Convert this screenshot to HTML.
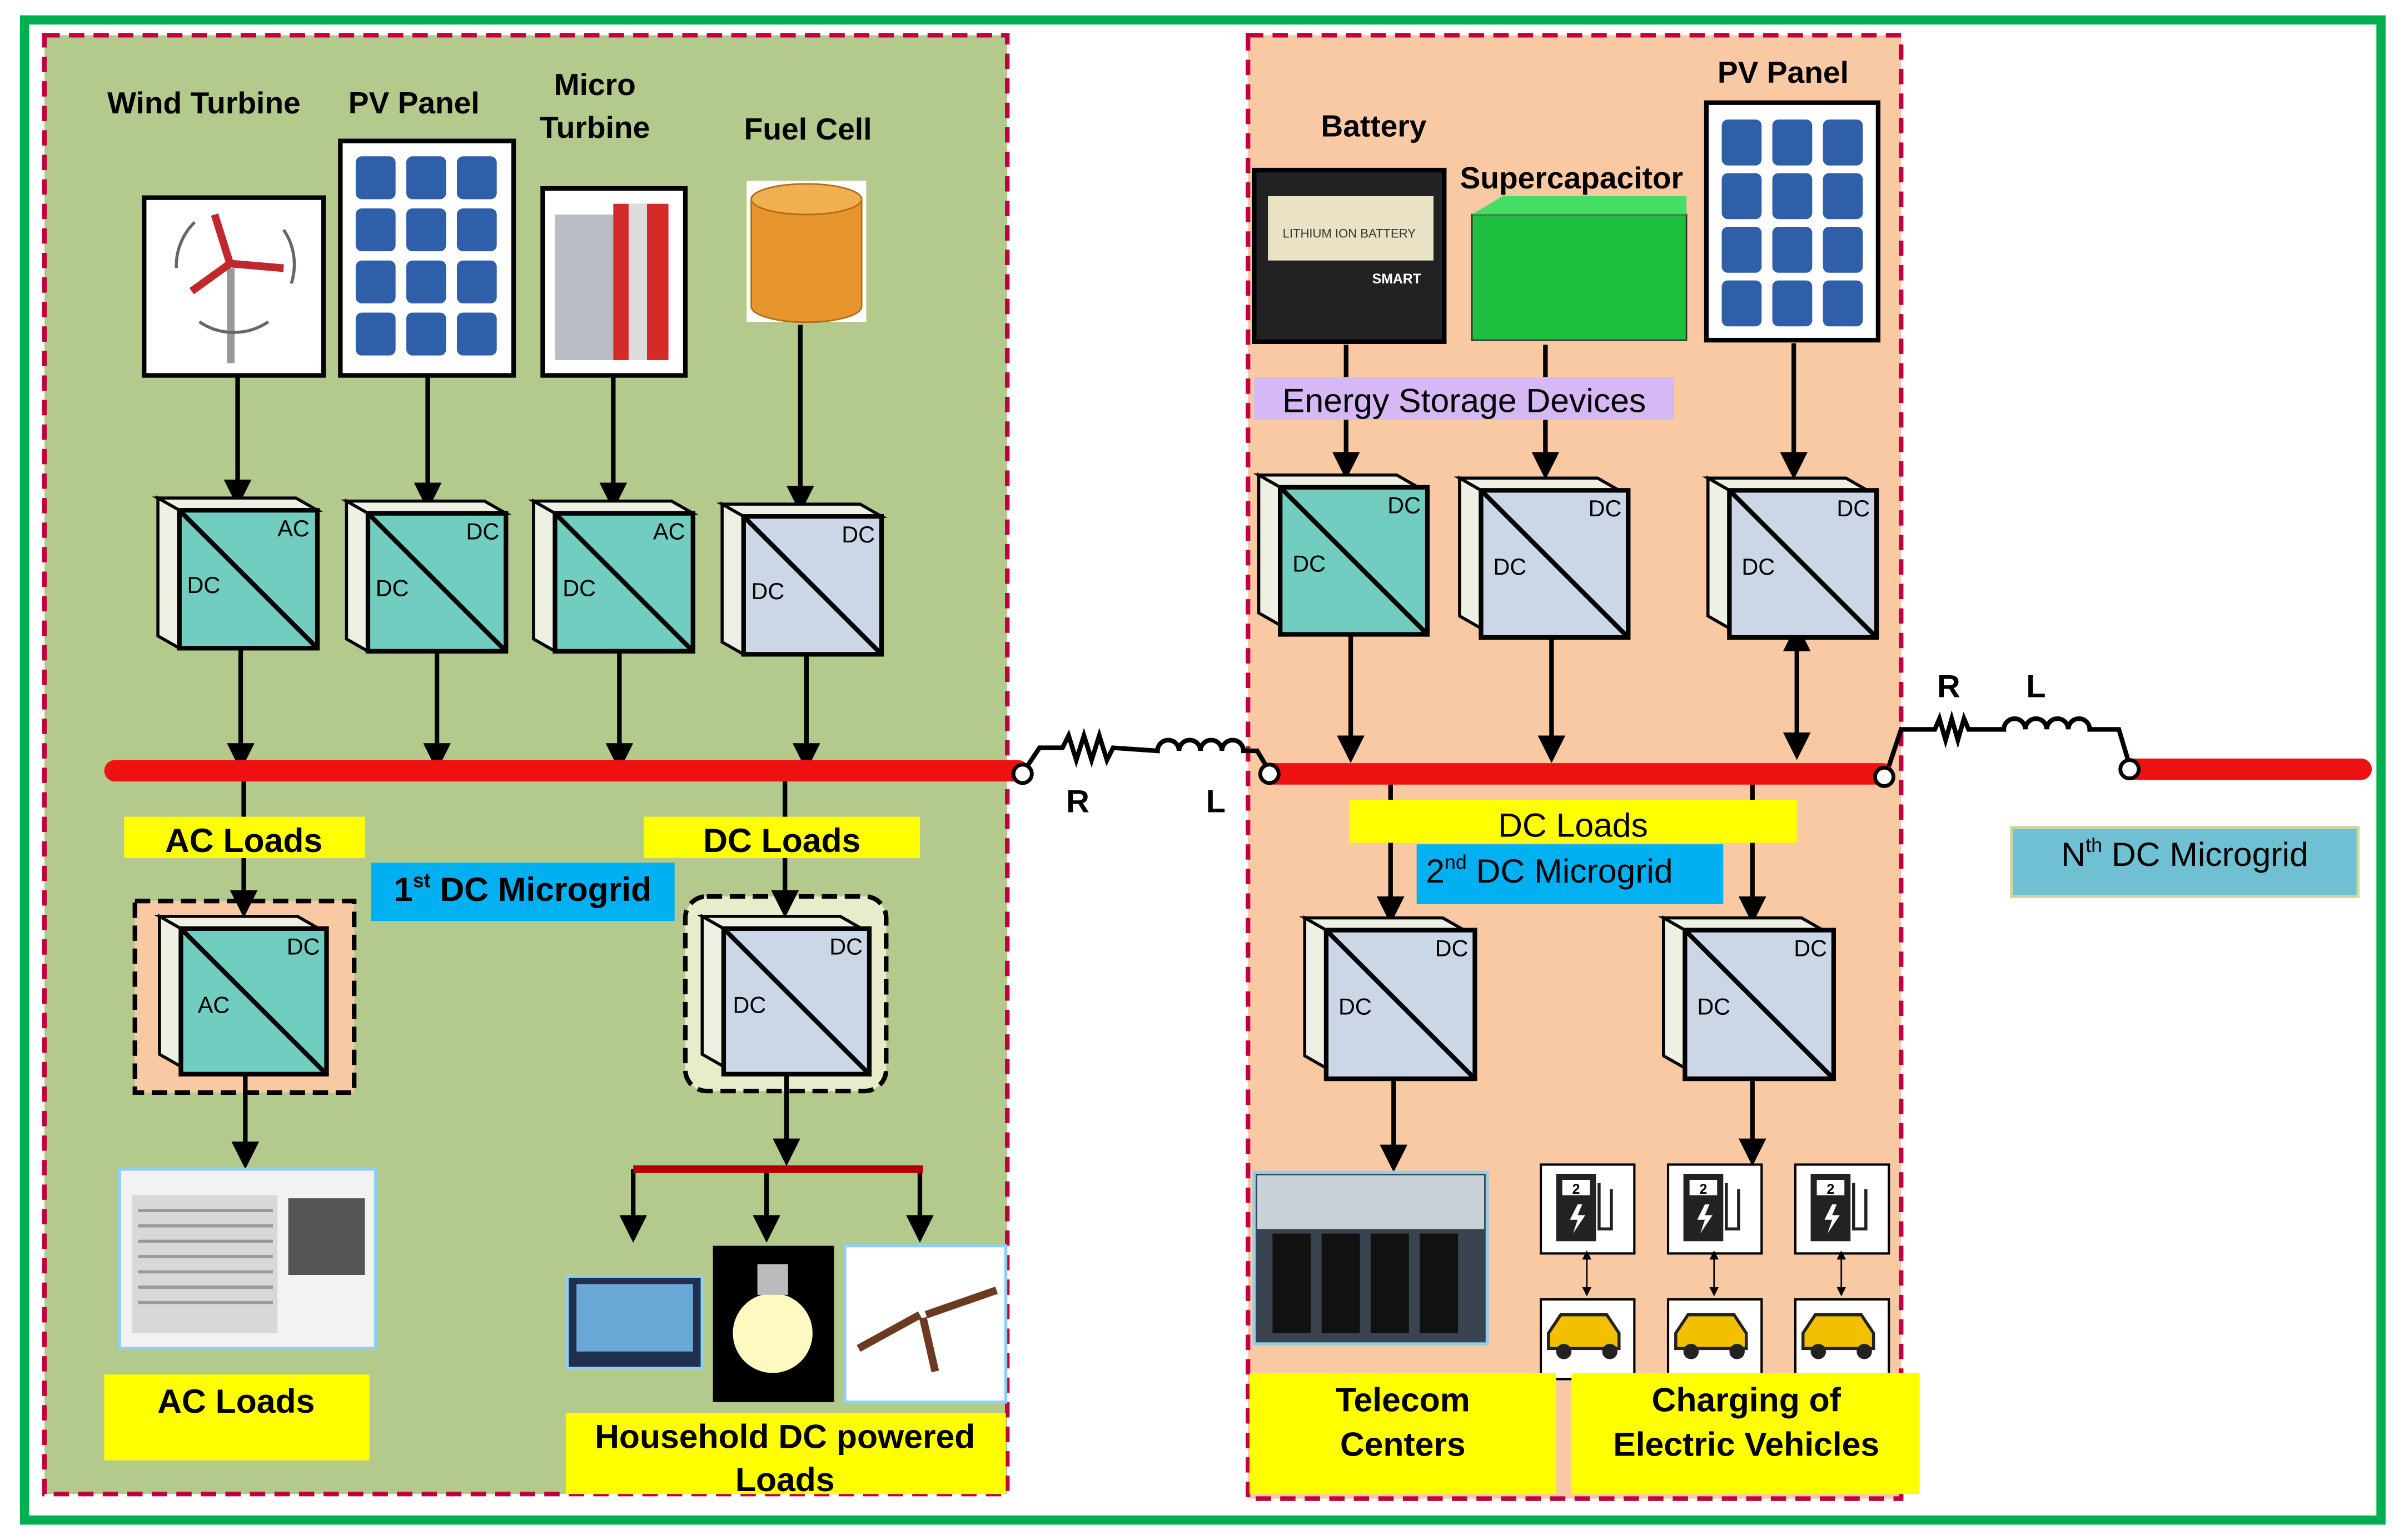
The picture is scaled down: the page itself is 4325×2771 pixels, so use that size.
<!DOCTYPE html>
<html><head><meta charset="utf-8"><style>
html,body{margin:0;padding:0;background:#fff}
svg{display:block}
text{font-family:"Liberation Sans",sans-serif}
</style></head><body>
<svg width="4325" height="2771" viewBox="0 0 1568 1005" preserveAspectRatio="none" xmlns="http://www.w3.org/2000/svg">
<defs>
<marker id="ah" markerWidth="6" markerHeight="6" refX="5" refY="3" orient="auto" markerUnits="strokeWidth"><path d="M0,0 L6,3 L0,6 z" fill="#000"/></marker>
<marker id="ahs" markerWidth="6" markerHeight="6" refX="1" refY="3" orient="auto-start-reverse" markerUnits="strokeWidth"><path d="M0,0 L6,3 L0,6 z" fill="#000"/></marker>
<g id="cv3d">
<polygon points="-14,-8 76,-8 90,0 0,0" fill="#eef0e4" stroke="#000" stroke-width="2"/>
<polygon points="-14,-8 0,0 0,90 -14,82" fill="#eef0e4" stroke="#000" stroke-width="2"/>
</g>
</defs>
<rect width="1568" height="1005" fill="#fff"/>
<rect x="16" y="13" width="1537" height="979" fill="none" stroke="#00b050" stroke-width="6"/>
<rect x="29" y="23" width="628" height="952" fill="#b4c98c" stroke="#c00040" stroke-width="3" stroke-dasharray="10,6"/>
<rect x="814" y="23" width="426" height="955" fill="#f9c9a4" stroke="#c00040" stroke-width="3" stroke-dasharray="10,6"/>
<g font-weight="bold" font-size="20" fill="#000" text-anchor="middle">
<text x="133" y="74">Wind Turbine</text>
<text x="270" y="74">PV Panel</text>
<text x="388" y="62">Micro</text><text x="388" y="90">Turbine</text>
<text x="527" y="91">Fuel Cell</text>
<text x="896" y="89">Battery</text>
<text x="1025" y="123">Supercapacitor</text>
<text x="1163" y="54">PV Panel</text>
</g>
<rect x="94" y="129" width="117" height="116" fill="#fff" stroke="#000" stroke-width="3"/>
<rect x="148" y="175" width="5" height="62" fill="#999"/>
<path d="M150,172 L140,140 M150,172 L185,175 M150,172 L125,190" stroke="#c0282d" stroke-width="5"/>
<path d="M115,175 a40,40 0 0 1 12,-30 M185,150 a40,40 0 0 1 5,35 M130,210 a40,40 0 0 0 45,0" fill="none" stroke="#666" stroke-width="2"/>
<rect x="222" y="92" width="113" height="153" fill="#fff" stroke="#000" stroke-width="3"/>
<g fill="#2f5fa8">
<rect x="232" y="102" width="26" height="28" rx="4"/><rect x="265" y="102" width="26" height="28" rx="4"/><rect x="298" y="102" width="26" height="28" rx="4"/>
<rect x="232" y="136" width="26" height="28" rx="4"/><rect x="265" y="136" width="26" height="28" rx="4"/><rect x="298" y="136" width="26" height="28" rx="4"/>
<rect x="232" y="170" width="26" height="28" rx="4"/><rect x="265" y="170" width="26" height="28" rx="4"/><rect x="298" y="170" width="26" height="28" rx="4"/>
<rect x="232" y="204" width="26" height="28" rx="4"/><rect x="265" y="204" width="26" height="28" rx="4"/><rect x="298" y="204" width="26" height="28" rx="4"/>
</g>
<rect x="354" y="123" width="93" height="122" fill="#fff" stroke="#000" stroke-width="3"/>
<rect x="362" y="140" width="38" height="95" fill="#b8bcc4"/>
<rect x="400" y="133" width="36" height="102" fill="#d42a2a"/>
<rect x="410" y="133" width="12" height="102" fill="#ddd"/>
<rect x="487" y="118" width="78" height="92" fill="#fff"/>
<path d="M490,130 v70 a35,10 0 0 0 72,0 v-70 z" fill="#e8952e" stroke="#b06a18"/>
<ellipse cx="526" cy="130" rx="36" ry="10" fill="#f0b050" stroke="#b06a18"/>
<g stroke="#000" stroke-width="3" fill="none" marker-end="url(#ah)">
<line x1="155" y1="245" x2="155" y2="328"/>
<line x1="279" y1="245" x2="279" y2="330"/>
<line x1="400" y1="245" x2="400" y2="330"/>
<line x1="522" y1="212" x2="522" y2="332"/>
<line x1="157" y1="424" x2="157" y2="500"/>
<line x1="285" y1="426" x2="285" y2="500"/>
<line x1="404" y1="426" x2="404" y2="500"/>
<line x1="526" y1="428" x2="526" y2="500"/>
</g>
<g transform="translate(117,333)"><use href="#cv3d"/><rect width="90" height="90" fill="#70cdbf" stroke="#000" stroke-width="3"/><line x1="0" y1="0" x2="90" y2="90" stroke="#000" stroke-width="3"/><text x="64" y="17" font-size="15">AC</text><text x="5" y="54" font-size="15">DC</text></g>
<g transform="translate(240,335)"><use href="#cv3d"/><rect width="90" height="90" fill="#70cdbf" stroke="#000" stroke-width="3"/><line x1="0" y1="0" x2="90" y2="90" stroke="#000" stroke-width="3"/><text x="64" y="17" font-size="15">DC</text><text x="5" y="54" font-size="15">DC</text></g>
<g transform="translate(362,335)"><use href="#cv3d"/><rect width="90" height="90" fill="#70cdbf" stroke="#000" stroke-width="3"/><line x1="0" y1="0" x2="90" y2="90" stroke="#000" stroke-width="3"/><text x="64" y="17" font-size="15">AC</text><text x="5" y="54" font-size="15">DC</text></g>
<g transform="translate(485,337)"><use href="#cv3d"/><rect width="90" height="90" fill="#cbd6e6" stroke="#000" stroke-width="3"/><line x1="0" y1="0" x2="90" y2="90" stroke="#000" stroke-width="3"/><text x="64" y="17" font-size="15">DC</text><text x="5" y="54" font-size="15">DC</text></g>
<line x1="75" y1="503" x2="664" y2="503" stroke="#ee1111" stroke-width="14" stroke-linecap="round"/>
<line x1="828" y1="505" x2="1228" y2="505" stroke="#ee1111" stroke-width="14" stroke-linecap="round"/>
<line x1="1390" y1="502" x2="1540" y2="502" stroke="#ee1111" stroke-width="14" stroke-linecap="round"/>
<g fill="#fff" stroke="#000" stroke-width="2.5">
<circle cx="667" cy="505" r="6"/><circle cx="828" cy="505" r="6"/><circle cx="1229" cy="507" r="6"/><circle cx="1389" cy="502" r="6"/>
</g>
<g fill="none" stroke="#000" stroke-width="3">
<path d="M670,500 L678,488 L693,488 l4,-8 l5,16 l5,-16 l5,16 l5,-16 l5,16 l4,-8 L755,490 a7,7 0 0 1 14,0 a7,7 0 0 1 14,0 a7,7 0 0 1 14,0 a7,7 0 0 1 14,0 L820,490 L826,500"/>
<path d="M1232,500 L1240,476 L1262,476 l3,-7 l4,14 l4,-14 l4,14 l4,-14 l3,7 L1307,476 a7,7 0 0 1 14,0 a7,7 0 0 1 14,0 a7,7 0 0 1 14,0 a7,7 0 0 1 14,0 L1382,476 L1388,496"/>
</g>
<g font-weight="bold" font-size="21" text-anchor="middle">
<text x="703" y="530">R</text><text x="793" y="530">L</text>
<text x="1271" y="455">R</text><text x="1328" y="455">L</text>
</g>
<rect x="88" y="588" width="143" height="125" fill="#f9c9a4" stroke="#000" stroke-width="3" stroke-dasharray="10,5"/>
<rect x="447" y="585" width="131" height="127" rx="14" fill="#e8eccb" stroke="#000" stroke-width="3" stroke-dasharray="10,5"/>
<g stroke="#000" stroke-width="3" fill="none" marker-end="url(#ah)">
<line x1="159" y1="510" x2="159" y2="596"/>
<line x1="512" y1="510" x2="512" y2="596"/>
<line x1="160" y1="700" x2="160" y2="760"/>
<line x1="513" y1="700" x2="513" y2="758"/>
<line x1="413" y1="763" x2="413" y2="808"/>
<line x1="500" y1="763" x2="500" y2="808"/>
<line x1="600" y1="763" x2="600" y2="808"/>
</g>
<rect x="81" y="533" width="157" height="27" fill="#ffff00"/>
<rect x="420" y="533" width="180" height="27" fill="#ffff00"/>
<rect x="242" y="563" width="198" height="38" fill="#00b0f0"/>
<g font-weight="bold" font-size="22" text-anchor="middle">
<text x="159" y="556">AC Loads</text><text x="510" y="556">DC Loads</text>
<text x="341" y="588">1<tspan font-size="13" dy="-9">st</tspan><tspan dy="9"> DC Microgrid</tspan></text>
</g>
<g transform="translate(118,606)"><use href="#cv3d"/><rect width="95" height="95" fill="#70cdbf" stroke="#000" stroke-width="3"/><line x1="0" y1="0" x2="95" y2="95" stroke="#000" stroke-width="3"/><text x="69" y="17" font-size="15">DC</text><text x="11" y="55" font-size="15">AC</text></g>
<g transform="translate(472,606)"><use href="#cv3d"/><rect width="95" height="95" fill="#cbd6e6" stroke="#000" stroke-width="3"/><line x1="0" y1="0" x2="95" y2="95" stroke="#000" stroke-width="3"/><text x="69" y="17" font-size="15">DC</text><text x="6" y="55" font-size="15">DC</text></g>
<line x1="413" y1="763" x2="602" y2="763" stroke="#b00000" stroke-width="5"/>
<rect x="78" y="763" width="167" height="117" fill="#f2f2f2" stroke="#8fd0f0" stroke-width="2"/>
<rect x="86" y="780" width="95" height="90" fill="#d8d8d8"/>
<g stroke="#999" stroke-width="2"><line x1="90" y1="790" x2="178" y2="790"/><line x1="90" y1="800" x2="178" y2="800"/><line x1="90" y1="810" x2="178" y2="810"/><line x1="90" y1="820" x2="178" y2="820"/><line x1="90" y1="830" x2="178" y2="830"/><line x1="90" y1="840" x2="178" y2="840"/><line x1="90" y1="850" x2="178" y2="850"/></g>
<rect x="188" y="782" width="50" height="50" fill="#555"/>
<rect x="68" y="897" width="173" height="56" fill="#ffff00"/>
<text x="154" y="922" font-weight="bold" font-size="22" text-anchor="middle">AC Loads</text>
<rect x="370" y="833" width="88" height="60" fill="#203050" stroke="#8fd0f0" stroke-width="2"/>
<rect x="376" y="838" width="76" height="44" fill="#6aa8d8"/>
<rect x="465" y="813" width="79" height="102" fill="#000"/>
<circle cx="504" cy="870" r="26" fill="#fff8c0"/>
<rect x="494" y="825" width="20" height="20" fill="#bbb"/>
<rect x="551" y="813" width="105" height="102" fill="#fff" stroke="#8fd0f0" stroke-width="2"/>
<path d="M560,880 L600,858 M604,858 L650,842 M602,860 L610,895" stroke="#6b3a20" stroke-width="5"/>
<rect x="369" y="922" width="287" height="53" fill="#ffff00"/>
<g font-weight="bold" font-size="22" text-anchor="middle"><text x="512" y="945">Household DC powered</text><text x="512" y="973">Loads</text></g>
<rect x="818" y="111" width="124" height="112" fill="#222" stroke="#000" stroke-width="3"/>
<rect x="827" y="128" width="108" height="42" fill="#e9e2c4"/>
<text x="880" y="155" font-size="8" text-anchor="middle" fill="#333">LITHIUM ION BATTERY</text>
<text x="895" y="185" font-size="9" fill="#fff" font-weight="bold">SMART</text>
<rect x="960" y="140" width="140" height="82" fill="#1fbf40" stroke="#333"/>
<polygon points="960,140 980,128 1100,128 1100,140" fill="#44dd66"/>
<rect x="1113" y="67" width="112" height="155" fill="#fff" stroke="#000" stroke-width="3"/>
<g fill="#2f5fa8">
<rect x="1123" y="78" width="26" height="30" rx="4"/><rect x="1156" y="78" width="26" height="30" rx="4"/><rect x="1189" y="78" width="26" height="30" rx="4"/>
<rect x="1123" y="113" width="26" height="30" rx="4"/><rect x="1156" y="113" width="26" height="30" rx="4"/><rect x="1189" y="113" width="26" height="30" rx="4"/>
<rect x="1123" y="148" width="26" height="30" rx="4"/><rect x="1156" y="148" width="26" height="30" rx="4"/><rect x="1189" y="148" width="26" height="30" rx="4"/>
<rect x="1123" y="183" width="26" height="30" rx="4"/><rect x="1156" y="183" width="26" height="30" rx="4"/><rect x="1189" y="183" width="26" height="30" rx="4"/>
</g>
<g stroke="#000" stroke-width="3" fill="none" marker-end="url(#ah)">
<line x1="878" y1="225" x2="878" y2="310"/>
<line x1="1008" y1="225" x2="1008" y2="310"/>
<line x1="1170" y1="224" x2="1170" y2="310"/>
<line x1="881" y1="415" x2="881" y2="495"/>
<line x1="1012" y1="415" x2="1012" y2="495"/>
<line x1="907" y1="512" x2="907" y2="600"/>
<line x1="1143" y1="512" x2="1143" y2="600"/>
<line x1="909" y1="705" x2="909" y2="762"/>
<line x1="1143" y1="705" x2="1143" y2="758"/>
</g>
<line x1="1172" y1="422" x2="1172" y2="493" stroke="#000" stroke-width="3" marker-start="url(#ahs)" marker-end="url(#ah)"/>
<rect x="818" y="246" width="274" height="28" fill="#d6b8f4"/>
<text x="955" y="269" font-size="22" text-anchor="middle">Energy Storage Devices</text>
<g transform="translate(835,318)"><use href="#cv3d"/><rect width="96" height="96" fill="#70cdbf" stroke="#000" stroke-width="3"/><line x1="0" y1="0" x2="96" y2="96" stroke="#000" stroke-width="3"/><text x="70" y="17" font-size="15">DC</text><text x="8" y="55" font-size="15">DC</text></g>
<g transform="translate(966,320)"><use href="#cv3d"/><rect width="96" height="96" fill="#cbd6e6" stroke="#000" stroke-width="3"/><line x1="0" y1="0" x2="96" y2="96" stroke="#000" stroke-width="3"/><text x="70" y="17" font-size="15">DC</text><text x="8" y="55" font-size="15">DC</text></g>
<g transform="translate(1128,320)"><use href="#cv3d"/><rect width="96" height="96" fill="#cbd6e6" stroke="#000" stroke-width="3"/><line x1="0" y1="0" x2="96" y2="96" stroke="#000" stroke-width="3"/><text x="70" y="17" font-size="15">DC</text><text x="8" y="55" font-size="15">DC</text></g>
<rect x="880" y="522" width="292" height="28" fill="#ffff00"/>
<text x="1026" y="546" font-size="22" text-anchor="middle">DC Loads</text>
<rect x="924" y="551" width="200" height="39" fill="#00b0f0"/>
<text x="930" y="576" font-size="22">2<tspan font-size="13" dy="-9">nd</tspan><tspan dy="9">  DC Microgrid</tspan></text>
<g transform="translate(865,607)"><use href="#cv3d"/><rect width="97" height="97" fill="#cbd6e6" stroke="#000" stroke-width="3"/><line x1="0" y1="0" x2="97" y2="97" stroke="#000" stroke-width="3"/><text x="71" y="17" font-size="15">DC</text><text x="8" y="55" font-size="15">DC</text></g>
<g transform="translate(1099,607)"><use href="#cv3d"/><rect width="97" height="97" fill="#cbd6e6" stroke="#000" stroke-width="3"/><line x1="0" y1="0" x2="97" y2="97" stroke="#000" stroke-width="3"/><text x="71" y="17" font-size="15">DC</text><text x="8" y="55" font-size="15">DC</text></g>
<rect x="818" y="765" width="152" height="112" fill="#3a4450" stroke="#8fd0f0" stroke-width="2"/>
<rect x="820" y="767" width="148" height="35" fill="#c8d0d8"/>
<g fill="#111"><rect x="830" y="805" width="25" height="65"/><rect x="862" y="805" width="25" height="65"/><rect x="894" y="805" width="25" height="65"/><rect x="926" y="805" width="25" height="65"/></g>
<g id="ev">
<rect x="1005" y="760" width="61" height="58" fill="#fff" stroke="#000" stroke-width="1.5"/>
<rect x="1015" y="766" width="26" height="44" fill="#222"/><rect x="1019" y="770" width="18" height="10" fill="#fff"/>
<text x="1028" y="779" font-size="9" text-anchor="middle" font-weight="bold">2</text>
<path d="M1029,786 l-5,10 h5 l-3,9 l8,-12 h-5 l3,-7z" fill="#fff"/>
<path d="M1043,772 v30 h8 v-26" fill="none" stroke="#222" stroke-width="2"/>
<rect x="1005" y="848" width="61" height="52" fill="#fff" stroke="#000" stroke-width="1.5"/>
<path d="M1010,880 v-10 l8,-12 h30 l8,12 v10 z" fill="#f2c000" stroke="#222" stroke-width="2"/>
<circle cx="1020" cy="882" r="5" fill="#222"/><circle cx="1050" cy="882" r="5" fill="#222"/>
<line x1="1035" y1="821" x2="1035" y2="845" stroke="#000" stroke-width="1" marker-start="url(#ahs)" marker-end="url(#ah)"/>
</g>
<use href="#ev" x="83"/>
<use href="#ev" x="166"/>
<rect x="815" y="896" width="200" height="79" fill="#ffff00"/>
<rect x="1025" y="896" width="227" height="79" fill="#ffff00"/>
<g font-weight="bold" font-size="22" text-anchor="middle">
<text x="915" y="921">Telecom</text><text x="915" y="950">Centers</text>
<text x="1139" y="921">Charging of</text><text x="1139" y="950">Electric Vehicles</text>
</g>
<rect x="1312" y="540" width="226" height="45" fill="#6ec0d2" stroke="#c8d8a0" stroke-width="2"/>
<text x="1425" y="565" font-size="22" text-anchor="middle">N<tspan font-size="13" dy="-9">th</tspan><tspan dy="9"> DC Microgrid</tspan></text>
</svg>
</body></html>
